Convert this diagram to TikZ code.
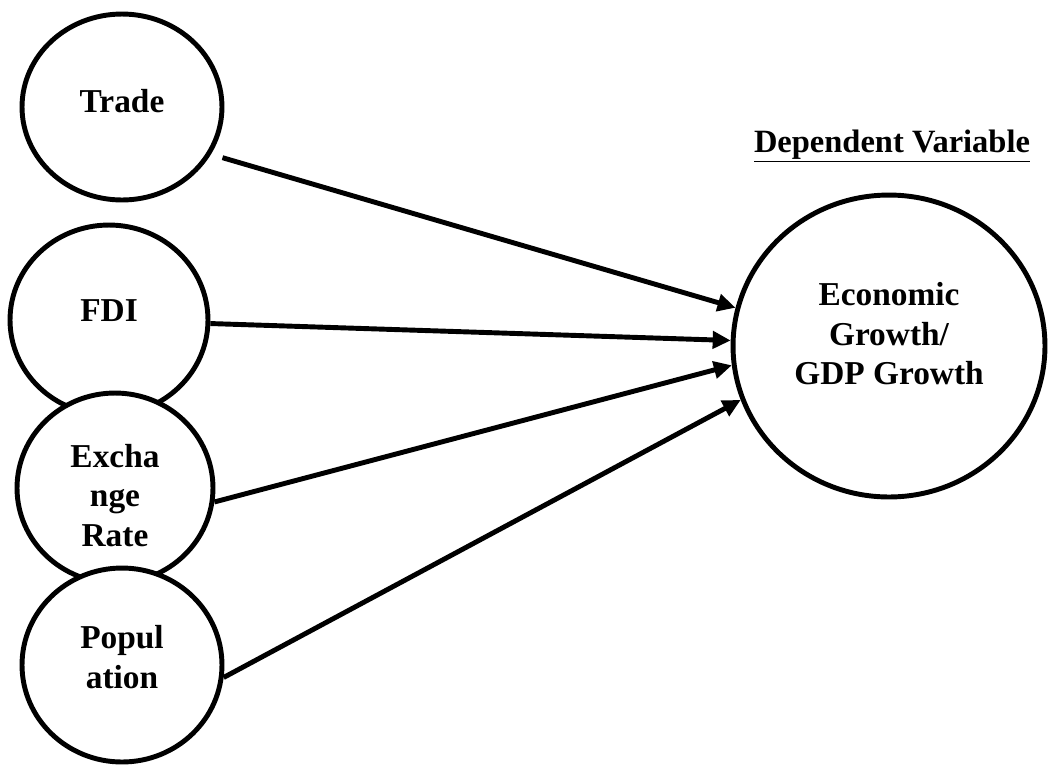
\documentclass[tikz,border=0pt]{standalone}
\usepackage{fontspec}
\setmainfont{Liberation Serif}
\usetikzlibrary{shapes.geometric}
\usetikzlibrary{arrows.meta}

\begin{document}
\begin{tikzpicture}
 [ x=0.02cm
 , y=-0.02cm
 , factor/.style={ellipse, draw, line width=2.8pt, fill=white, align=center, inner sep=0pt, font=\fontsize{19}{22.5}\selectfont\bfseries}
 , link/.style={line width=2.8pt, -{Triangle[length=0.36cm,width=0.34cm]}}
 ]
  \useasboundingbox (0,0) rectangle (1050,765);

  % independent variables, drawn top to bottom so each covers the one above
  \node [factor, minimum width=4cm, minimum height=3.72cm] (trade) at (122,107) {\raisebox{0.26cm}{Trade}};
  \node [factor, minimum width=3.96cm, minimum height=3.8cm] (fdi) at (109,320) {\raisebox{0.36cm}{FDI}};
  \node [factor, minimum width=3.92cm, minimum height=3.8cm] (exrate) at (115,488) {Excha\\nge\\Rate\\[-1.07cm]};
  \node [factor, minimum width=4cm, minimum height=3.88cm] (pop) at (122,665) {Popul\\ation\\[-0.47cm]};

  % dependent variable
  \node [factor, minimum width=6.24cm, minimum height=6.04cm] (gdp) at (889,346) {Economic\\Growth/\\GDP Growth\\[-0.3cm]};
  \node [font=\fontsize{18.5}{22}\selectfont\bfseries] (deptitle) at (892,146) {\underline{Dependent Variable}};

  \draw [link, shorten <=0.24cm] (trade.-28) -- (gdp.166);
  \draw [link] (fdi.-2) -- (gdp.178);
  \draw [link] (exrate.-8) -- (gdp.187);
  \draw [link] (pop.-7) -- (gdp.200);
\end{tikzpicture}
\end{document}
